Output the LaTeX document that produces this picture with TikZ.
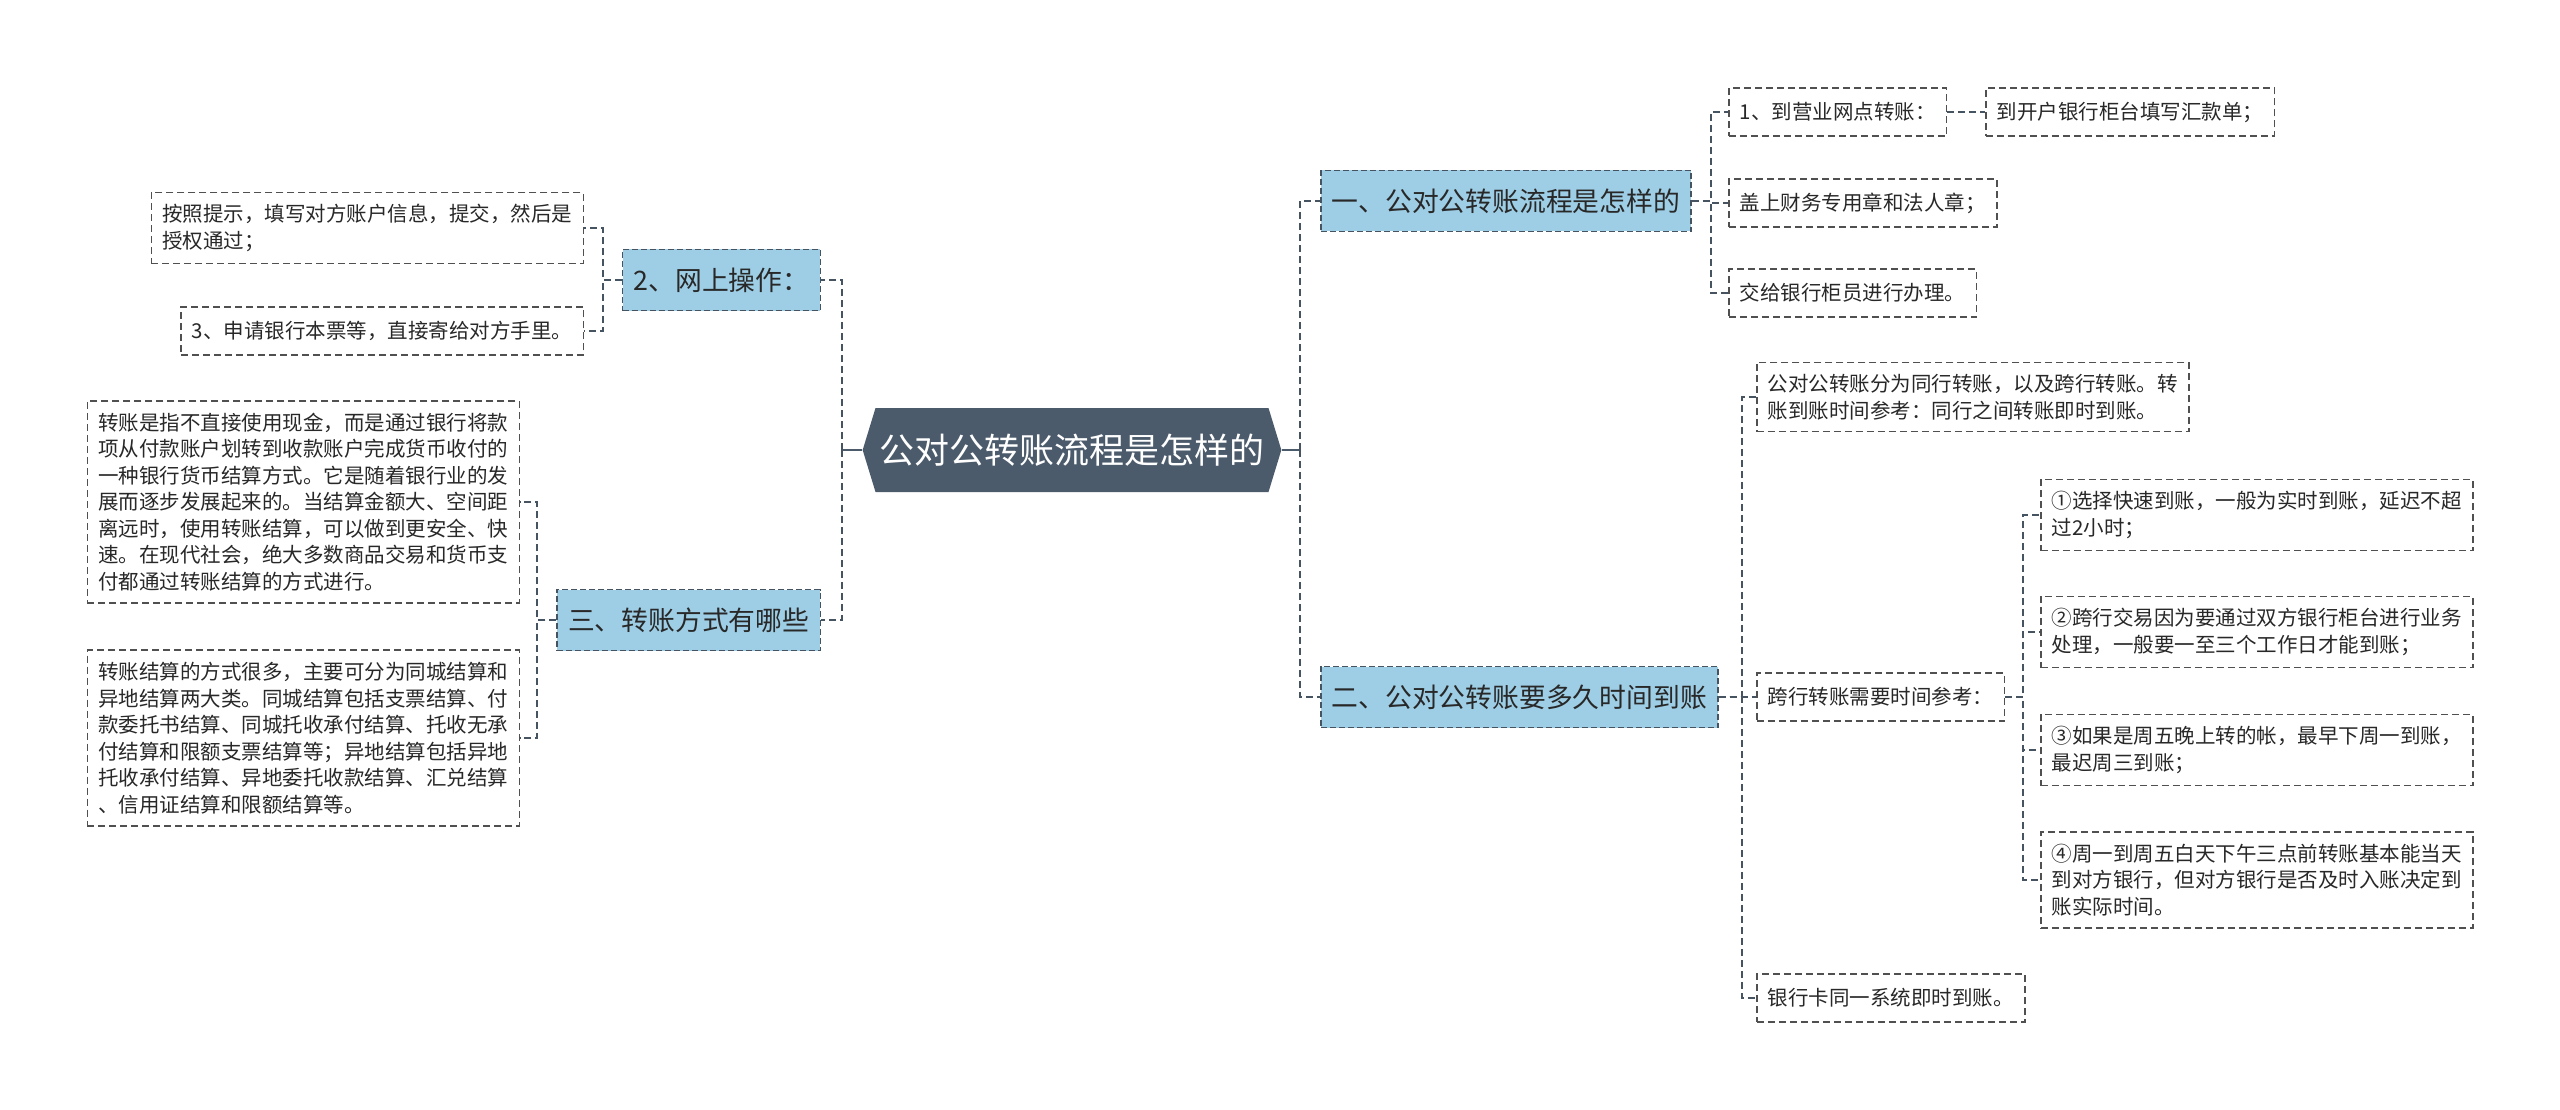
\documentclass[tikz,border=0pt]{standalone}
\usepackage{fontspec}
\setmainfont{Noto Sans CJK SC}
\usepackage{tikz}
\usetikzlibrary{shapes.symbols}
\definecolor{mmslate}{RGB}{75,91,107}
\definecolor{mmblue}{RGB}{158,206,229}
\definecolor{mmline}{RGB}{70,84,98}
\definecolor{mmgray}{RGB}{80,80,80}
\definecolor{mmtext}{RGB}{40,40,40}

\begin{document}
\begin{tikzpicture}[x=1pt,y=-1pt,
    hub/.style={shape=signal,signal to=west and east,signal pointer angle=146,
      fill=mmslate,text=white,font=\fontsize{35}{42}\selectfont,
      minimum height=84pt,inner xsep=4pt},
    topic/.style={draw=mmline,dash pattern=on 6pt off 3pt,line width=1.5pt,
      fill=mmblue,text=mmtext,font=\fontsize{26.8}{32}\selectfont,
      minimum height=61pt,inner xsep=11pt},
    leaf/.style={draw=mmgray,dash pattern=on 7pt off 4pt,line width=1.5pt,
      fill=white,text=mmtext,font=\fontsize{20.5}{26.5}\selectfont,align=left,
      minimum height=48pt,inner xsep=11pt,inner ysep=12pt},
    link/.style={draw=mmline,dash pattern=on 7pt off 4pt,line width=1.8pt},
    stem/.style={draw=mmslate,line width=2.4pt}]
  \useasboundingbox (0,0) rectangle (2560,1110);

  % centre
  \node[hub] (hub) at (1072,450) {公对公转账流程是怎样的};

  % right side
  \node[topic,anchor=west] (flow) at (1320,201) {一、公对公转账流程是怎样的};
  \node[leaf,anchor=west] (flowA) at (1728,112) {1、到营业网点转账：};
  \node[leaf,anchor=west] (flowAa) at (1985,112) {到开户银行柜台填写汇款单；};
  \node[leaf,anchor=west] (flowB) at (1728,203) {盖上财务专用章和法人章；};
  \node[leaf,anchor=west] (flowC) at (1728,293) {交给银行柜员进行办理。};

  \node[topic,anchor=west] (time) at (1320,697) {二、公对公转账要多久时间到账};
  \node[leaf,anchor=west] (timeA) at (1756,397) {公对公转账分为同行转账，以及跨行转账。转\\账到账时间参考：同行之间转账即时到账。};
  \node[leaf,anchor=west] (timeB) at (1756,697) {跨行转账需要时间参考：};
  \node[leaf,anchor=west] (timeC) at (1756,998) {银行卡同一系统即时到账。};
  \node[leaf,anchor=west] (timeB1) at (2040,515) {①选择快速到账，一般为实时到账，延迟不超\\过2小时；};
  \node[leaf,anchor=west] (timeB2) at (2040,632) {②跨行交易因为要通过双方银行柜台进行业务\\处理，一般要一至三个工作日才能到账；};
  \node[leaf,anchor=west] (timeB3) at (2040,750) {③如果是周五晚上转的帐，最早下周一到账，\\最迟周三到账；};
  \node[leaf,anchor=west] (timeB4) at (2040,880) {④周一到周五白天下午三点前转账基本能当天\\到对方银行，但对方银行是否及时入账决定到\\账实际时间。};

  % left side
  \node[topic,anchor=east] (online) at (821,280) {2、网上操作：};
  \node[leaf,anchor=east] (onlineA) at (584,228) {按照提示，填写对方账户信息，提交，然后是\\授权通过；};
  \node[leaf,anchor=east] (onlineB) at (584,331) {3、申请银行本票等，直接寄给对方手里。};

  \node[topic,anchor=east] (ways) at (821,620) {三、转账方式有哪些};
  \node[leaf,anchor=east] (waysA) at (520,502) {转账是指不直接使用现金，而是通过银行将款\\项从付款账户划转到收款账户完成货币收付的\\一种银行货币结算方式。它是随着银行业的发\\展而逐步发展起来的。当结算金额大、空间距\\离远时，使用转账结算，可以做到更安全、快\\速。在现代社会，绝大多数商品交易和货币支\\付都通过转账结算的方式进行。};
  \node[leaf,anchor=east] (waysB) at (520,738) {转账结算的方式很多，主要可分为同城结算和\\异地结算两大类。同城结算包括支票结算、付\\款委托书结算、同城托收承付结算、托收无承\\付结算和限额支票结算等；异地结算包括异地\\托收承付结算、异地委托收款结算、汇兑结算\\、信用证结算和限额结算等。};

  % connectors
  \coordinate (hubR) at (1300,450);
  \coordinate (hubL) at (842,450);
  \draw[stem] (hub.east) -- (hubR) ++(0,-7) -- ++(0,14);
  \draw[stem] (hub.west) -- (hubL) ++(0,-7) -- ++(0,14);
  \draw[link] (hubR) |- (flow.west);
  \draw[link] (hubR) |- (time.west);
  \draw[link] (hubL) |- (online.east);
  \draw[link] (hubL) |- (ways.east);

  \foreach \c in {flowA,flowB,flowC}
    \draw[link] (flow.east) -- ++(19,0) |- (\c.west);
  \draw[link] (flowA.east) -- (flowAa.west);
  \foreach \c in {timeA,timeB,timeC}
    \draw[link] (time.east) -- ++(23,0) |- (\c.west);
  \foreach \c in {timeB1,timeB2,timeB3,timeB4}
    \draw[link] (timeB.east) -- ++(18,0) |- (\c.west);
  \foreach \c in {onlineA,onlineB}
    \draw[link] (online.west) -- ++(-19,0) |- (\c.east);
  \foreach \c in {waysA,waysB}
    \draw[link] (ways.west) -- ++(-19,0) |- (\c.east);
\end{tikzpicture}
\end{document}
